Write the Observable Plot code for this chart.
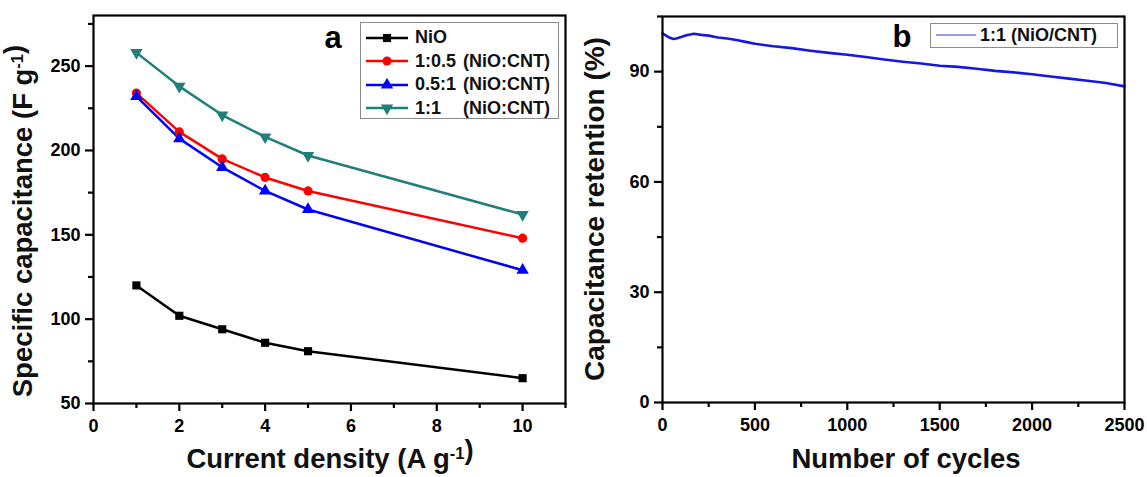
<!DOCTYPE html>
<html><head><meta charset="utf-8">
<script src="https://cdn.jsdelivr.net/npm/d3@7"></script>
<script src="https://cdn.jsdelivr.net/npm/@observablehq/plot@0.6"></script>
<style>
body{margin:0;background:#fff;font-family:"Liberation Sans",Arial,sans-serif;}
#wrap{position:relative;width:1147px;height:477px;display:flex;overflow:hidden;}
.panel{position:relative;}
svg{display:block}
.leg{position:absolute;border:1.5px solid #8c8c8c;background:#fff;font-weight:bold;font-size:18px;color:#111;box-sizing:border-box;}
.row{display:flex;align-items:center;height:23.5px;white-space:pre;}
.row svg{margin-left:5px;margin-right:7px;}
.ratio{display:inline-block;width:48px;}
</style></head><body>
<div id="wrap"><div class="panel" id="pa"></div><div class="panel" id="pb"></div></div>
<script>
// ---- Panel a data ----
const currentDensity = [1, 2, 3, 4, 5, 10];
const seriesNames = ["NiO", "1:0.5 (NiO:CNT)", "0.5:1 (NiO:CNT)", "1:1 (NiO:CNT)"];
const legendRatios = ["NiO", "1:0.5", "0.5:1", "1:1"];
const capNiO = [120, 102, 94, 86, 81, 65];
const cap1to05 = [234, 211, 195, 184, 176, 148];
const cap05to1 = [232, 207, 190, 176, 165, 129];
const cap1to1 = [258, 238, 221, 208, 197, 162];
const seriesColors = ["#000000", "#ff0000", "#0000ff", "#1f7f7b"];
const xTicksA = [0, 2, 4, 6, 8, 10];
const xMinorA = [1, 3, 5, 7, 9, 11];
const yTicksA = [50, 100, 150, 200, 250];
const yMinorA = [75, 125, 175, 225, 275];

// ---- Panel b data ----
const cycles = [0, 20, 40, 60, 80, 100, 130, 170, 210, 250, 300, 350, 400, 450, 500, 600, 700, 800, 900, 1000, 1100, 1200, 1300, 1400, 1500, 1600, 1700, 1800, 1900, 2000, 2100, 2200, 2300, 2400, 2500];
const retention = [100.4, 99.8, 99.2, 98.9, 99.1, 99.4, 99.9, 100.3, 100.0, 99.8, 99.3, 99.0, 98.6, 98.1, 97.6, 96.9, 96.4, 95.7, 95.1, 94.6, 94.0, 93.3, 92.7, 92.2, 91.6, 91.3, 90.8, 90.2, 89.8, 89.3, 88.7, 88.1, 87.5, 86.9, 86.0];
const xTicksB = [0, 500, 1000, 1500, 2000, 2500];
const xMinorB = [250, 750, 1250, 1750, 2250];
const yTicksB = [0, 30, 60, 90];
const yMinorB = [15, 45, 75, 105];

const seriesValues = [capNiO, cap1to05, cap05to1, cap1to1];
const rowsA = seriesNames.flatMap((s, i) => currentDensity.map((x, j) => ({x, y: seriesValues[i][j], series: s})));
const rowsB = cycles.map((c, i) => ({c, r: retention[i]}));

const triDown = {
  draw(ctx, size) {
    const y = -Math.sqrt(size / (Math.sqrt(3) * 3));
    ctx.moveTo(0, -y * 2);
    ctx.lineTo(-Math.sqrt(3) * y, y);
    ctx.lineTo(Math.sqrt(3) * y, y);
    ctx.closePath();
  }
};
const symbols = ["square", "circle", "triangle", triDown];

const font = {fontFamily: "'Liberation Sans', Arial, sans-serif", fontSize: "18px", fontWeight: "bold"};
const fmt = d => String(d);

const plotA = Plot.plot({
  width: 580, height: 477,
  marginLeft: 93, marginRight: 15, marginTop: 15, marginBottom: 74,
  style: font,
  x: {domain: [0, 11]},
  y: {domain: [50, 280]},
  color: {domain: seriesNames, range: seriesColors},
  symbol: {domain: seriesNames, range: symbols},
  marks: [
    Plot.line(rowsA, {x: "x", y: "y", z: "series", stroke: "series", strokeWidth: 2.5}),
    Plot.dot(rowsA, {x: "x", y: "y", fill: "series", symbol: "series", r: 4.6}),
    Plot.frame({strokeWidth: 2.2}),
    Plot.axisX(xTicksA, {tickSize: 8, tickPadding: 8, strokeWidth: 2.2, tickFormat: fmt, label: null}),
    Plot.axisX(xMinorA, {tickSize: 5, strokeWidth: 2.2, tickFormat: () => "", label: null}),
    Plot.axisY(yTicksA, {tickSize: 8, tickPadding: 5, strokeWidth: 2.2, tickFormat: fmt, label: null}),
    Plot.axisY(yMinorA, {tickSize: 5, strokeWidth: 2.2, tickFormat: () => "", label: null})
  ]
});

const plotB = Plot.plot({
  width: 567, height: 477,
  marginLeft: 82, marginRight: 23, marginTop: 16, marginBottom: 75,
  style: font,
  x: {domain: [0, 2500]},
  y: {domain: [0, 105]},
  marks: [
    Plot.line(rowsB, {x: "c", y: "r", stroke: "#1616e8", strokeWidth: 2.6}),
    Plot.frame({strokeWidth: 2.2}),
    Plot.axisX(xTicksB, {tickSize: 8, tickPadding: 8, strokeWidth: 2.2, tickFormat: fmt, label: null}),
    Plot.axisX(xMinorB, {tickSize: 5, strokeWidth: 2.2, tickFormat: () => "", label: null}),
    Plot.axisY(yTicksB, {tickSize: 8, tickPadding: 5, strokeWidth: 2.2, tickFormat: fmt, label: null}),
    Plot.axisY(yMinorB, {tickSize: 5, strokeWidth: 2.2, tickFormat: () => "", label: null})
  ]
});

document.getElementById("pa").appendChild(plotA);
document.getElementById("pb").appendChild(plotB);

function addLabel(svg, x, y, rot, parts, size) {
  const t = d3.select(svg).append("text")
    .attr("text-anchor", "middle")
    .attr("font-size", size).attr("font-weight", "bold").attr("fill", "#111")
    .attr("transform", `translate(${x},${y}) rotate(${rot})`);
  parts.forEach(p => {
    if (p.sup) {
      t.append("tspan").attr("dy", "-0.55em").attr("font-size", size * 0.6).text(p.sup);
      t.append("tspan").attr("dy", "0.55em").text("");
    } else t.append("tspan").text(p.t);
  });
}
addLabel(plotA, 32, 221, -90, [{t: "Specific capacitance (F g"}, {sup: "-1"}, {t: ")"}], 27.5);
addLabel(plotA, 330, 468, 0, [{t: "Current density (A g"}, {sup: "-1"}, {t: ")"}], 27.5);
addLabel(plotB, 24, 209, -90, [{t: "Capacitance retention (%)"}], 28);
addLabel(plotB, 326, 468, 0, [{t: "Number of cycles"}], 27.5);
d3.select(plotA).append("text").attr("x", 333).attr("y", 48).attr("font-size", 31).attr("font-weight", "bold").attr("fill", "#000").text("a");
d3.select(plotB).append("text").attr("x", 322).attr("y", 47).attr("font-size", 31).attr("font-weight", "bold").attr("fill", "#000").text("b");

// Legend a
const legA = document.createElement("div");
legA.className = "leg";
Object.assign(legA.style, {left: "360px", top: "22px", width: "199px", height: "97px", paddingTop: "3px"});
const symPaths = symbols.map(s => d3.symbol(typeof s === "string" ? {square: d3.symbolSquare, circle: d3.symbolCircle, triangle: d3.symbolTriangle}[s] : s, 4.6 * 4.6 * Math.PI)());
seriesNames.forEach((s, i) => {
  const row = document.createElement("div");
  row.className = "row";
  const label = i === 0 ? `<span>${legendRatios[i]}</span>` : `<span class="ratio">${legendRatios[i]}</span><span>(NiO:CNT)</span>`;
  row.innerHTML = `<svg width="42" height="14"><line x1="0" x2="42" y1="7" y2="7" stroke="${seriesColors[i]}" stroke-width="2.5"/><path transform="translate(21,7)" d="${symPaths[i]}" fill="${seriesColors[i]}"/></svg>${label}`;
  legA.appendChild(row);
});
document.getElementById("pa").appendChild(legA);

// Legend b
const legB = document.createElement("div");
legB.className = "leg";
Object.assign(legB.style, {left: "350px", top: "23px", width: "188px", height: "25px"});
legB.innerHTML = `<div class="row" style="height:22px"><svg width="40" height="10" style="margin-left:5px;margin-right:4px"><line x1="0" x2="40" y1="5" y2="5" stroke="#3434d4" stroke-width="1.2"/></svg><span>1:1 (NiO/CNT)</span></div>`;
document.getElementById("pb").appendChild(legB);
</script>
</body></html>
